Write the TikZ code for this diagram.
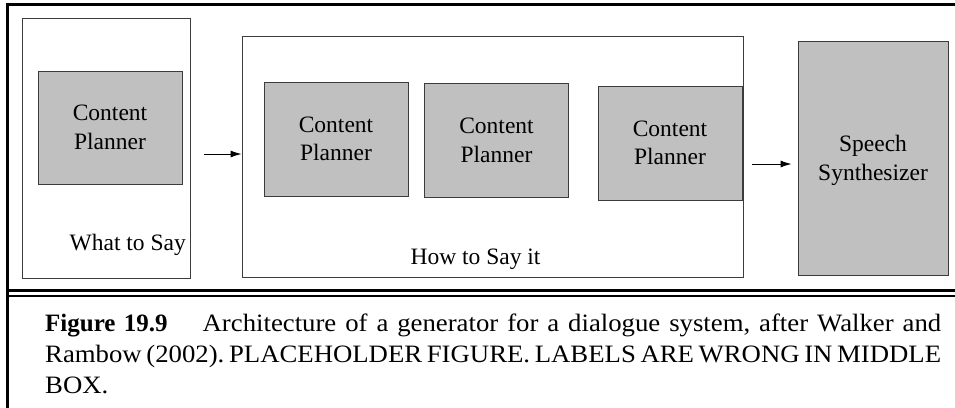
\documentclass[tikz,border=0pt]{standalone}
\usepackage{fontspec}
\setmainfont{Liberation Serif}
\newfontfamily\capfont[FakeStretch=1.07]{Liberation Serif}
\usetikzlibrary{arrows.meta}
\definecolor{boxgray}{RGB}{192,192,192}
\definecolor{edgegray}{RGB}{60,60,60}

\begin{document}
\begin{tikzpicture}[x=1pt,y=-1pt,
  planner/.style={draw=edgegray,line width=0.9pt,fill=boxgray,inner sep=0pt,
    align=center,font=\fontsize{23.5}{28.5}\selectfont},
  stage/.style={draw=edgegray,line width=0.9pt,fill=white,inner sep=0pt},
  label/.style={inner sep=0pt,align=center,font=\fontsize{23.5}{28.5}\selectfont},
  flow/.style={-{Latex[length=11pt,width=7pt]},line width=0.9pt},
  frame/.style={line width=2.7pt}]
\useasboundingbox (0,0) rectangle (955,407);

% the frame round figure and caption
\draw[frame,line cap=rect] (955,4.7) -- (7.3,4.7) -- (7.3,407);
\draw[line width=3.8pt] (7.3,290.5) -- (955,290.5);
\draw[line width=2.2pt] (7.3,295.6) -- (955,295.6);

% what to say
\node[stage,minimum width=168pt,minimum height=260pt] (what) at (106,148) {};
\node[planner,minimum width=144pt,minimum height=113pt] (cp0) at (110,127.5)
  {Content\\Planner};
\node[label,anchor=base east] (whatlabel) at (186,250) {What to Say};

% how to say it
\node[stage,minimum width=501pt,minimum height=241pt] (how) at (492.5,156.5) {};
\foreach \n/\x/\y in {1/336/139,2/496.5/140.5,3/670/143}
{
  \node[planner,minimum width=144pt,minimum height=114pt] (cp\n) at (\x,\y)
    {Content\\Planner};
}
\node[label,anchor=base] (howlabel) at (475.5,264) {How to Say it};

% speech synthesizer, its text sits a bit low
\node[planner,minimum width=150pt,minimum height=234pt] (speech) at (873,158) {};
\node[label,anchor=base] (speechlabel) at (873,180) {Speech\\Synthesizer};

% the arrows between the stages
\draw[flow,shorten <=14pt] (what.east |- 0,154) -- (how.west |- 0,154);
\draw[flow,shorten <=9pt,shorten >=6pt] (how.east |- 0,164) -- (speech.west |- 0,164);

% the caption
\node[anchor=base west,text width=896pt,align=justify,inner sep=0pt,
  font=\capfont\fontsize{25}{31}\selectfont\frenchspacing] (caption) at (45,331.7)
  {{\normalfont\bfseries Figure 19.9}\hspace{1.4em}Architecture of a generator for
  a dialogue system, after Walker and\linebreak Rambow (2002). PLACEHOLDER FIGURE.
  LABELS ARE WRONG IN MIDDLE\linebreak BOX.};
\end{tikzpicture}
\end{document}
